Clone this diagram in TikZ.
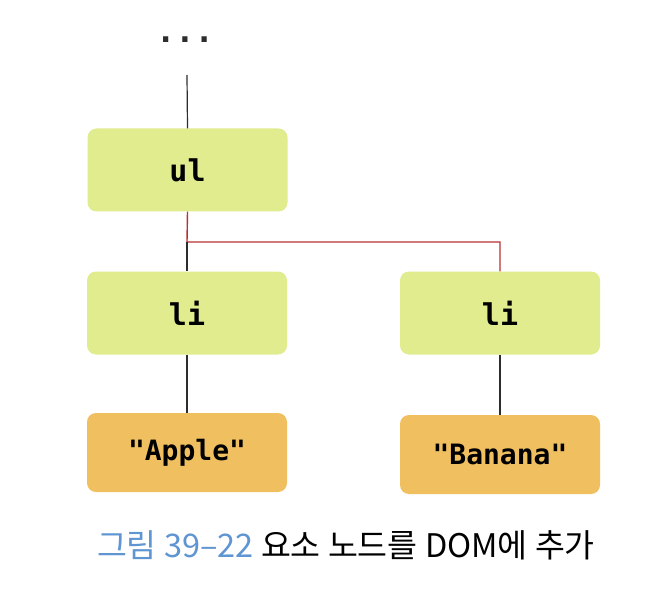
\documentclass[tikz,border=0pt]{standalone}
\usepackage{fontspec}
\newfontfamily\codefont{DejaVu Sans Mono}
\newfontfamily\krfont{Noto Sans CJK KR}
\definecolor{limebox}{RGB}{224,236,142}
\definecolor{orangebox}{RGB}{240,192,96}
\definecolor{redline}{RGB}{185,50,50}
\definecolor{capblue}{RGB}{95,150,210}
\definecolor{darkline}{RGB}{45,45,45}
\tikzset{
  elembox/.style={fill=limebox, rounded corners=9pt, minimum width=200pt, minimum height=83pt, inner sep=0pt, font=\codefont\bfseries\fontsize{30}{34}\selectfont},
  textbox/.style={fill=orangebox, rounded corners=9pt, minimum width=200pt, minimum height=79pt, inner sep=0pt, font=\codefont\bfseries\fontsize{28}{34}\selectfont},
  darkconn/.style={draw=darkline, line width=1.2pt},
  redconn/.style={draw=redline, line width=1.4pt}
}
\begin{document}
\begin{tikzpicture}[x=1pt,y=-1pt]
\useasboundingbox (0,0) rectangle (664,604);
\fill[white] (0,0) rectangle (664,604);
\node[font=\codefont\bfseries\fontsize{32}{36}\selectfont, text=darkline] (dots) at (185,40) {...};
\coordinate (top) at (187,75);
\node[elembox] (ul) at (187.5,170) {ul};
\node[elembox] (li1) at (187,313) {li};
\node[elembox] (li2) at (500,313) {li};
\node[textbox] (apple) at (187,452.5) {"Apple"};
\node[textbox] (banana) at (500,454.5) {"Banana"};
\coordinate (j) at (187,242);
\draw[darkconn] (top) -- (ul.north);
\draw[redconn] (ul.south) -- (j) -| (li2.north);
\draw[darkconn] (j) -- (li1.north);
\draw[darkconn] (li1.south) -- (apple.north);
\draw[darkconn] (li2.south) -- (banana.north);
\node[font=\krfont\fontsize{32.5}{36}\selectfont, anchor=center] (cap) at (346,545) {{\color{capblue}그림 39–22} 요소 노드를 DOM에 추가};
\end{tikzpicture}
\end{document}
